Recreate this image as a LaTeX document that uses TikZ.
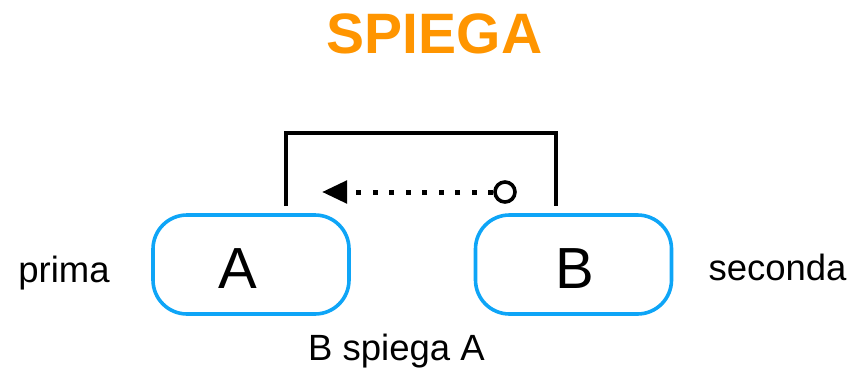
\documentclass[tikz,border=0pt]{standalone}
\usepackage{fontspec}
\setmainfont{Liberation Sans}
\usetikzlibrary{arrows.meta}
\definecolor{boxblue}{HTML}{0EA5F7}
\definecolor{titleorange}{HTML}{FF9500}
\begin{document}
\begin{tikzpicture}[x=1pt,y=-1pt,
  pill/.style={draw=boxblue, line width=3.6pt, rounded corners=34pt, minimum width=196pt, minimum height=99pt, inner sep=0pt},
  big/.style={font=\fontsize{58}{64}\selectfont, inner sep=0pt},
  side/.style={font=\fontsize{36.5}{42}\selectfont, inner sep=0pt},
  bracket/.style={line width=4pt, line join=miter},
  ring/.style={circle, draw, line width=3.6pt, minimum size=20pt, inner sep=0pt},
  dotline/.style={line width=5pt, dash pattern=on 5pt off 11.5pt, -{Triangle[length=25pt,width=22pt]}}
]
\useasboundingbox (0,0) rectangle (853,375);
\node[font=\fontsize{57}{62}\selectfont\bfseries, text=titleorange, anchor=base, inner sep=0pt] (title) at (434.5,53) {SPIEGA};
\node[pill] (boxA) at (251,264.5) {};
\node[pill] (boxB) at (573.5,264.5) {};
\node[big, anchor=base] (tA) at (237.5,288) {A};
\node[big, anchor=base] (tB) at (575,288) {B};
\node[side, anchor=base] (prima) at (64,282) {prima};
\node[side, anchor=base] (seconda) at (777.5,280) {seconda};
\node[side, anchor=base] (desc) at (396.5,360) {B spiega A};
\coordinate (bl) at (286,206);
\coordinate (br) at (556,206);
\draw[bracket] (bl) -- (286,133) -- (556,133) -- (br);
\node[ring] (ring) at (505,192) {};
\coordinate (tip) at (322,192);
\draw[dotline] (ring.west) -- (tip);
\end{tikzpicture}
\end{document}
